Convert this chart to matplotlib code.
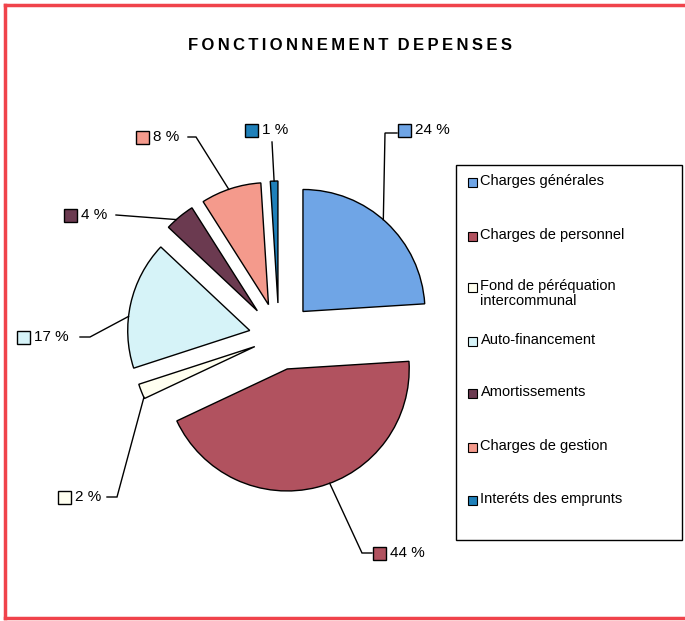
"""Pie chart: FONCTIONNEMENT DEPENSES (exploded slices, boxed legend on the right)."""
import numpy as np
import matplotlib

matplotlib.use("Agg")
import matplotlib.pyplot as plt
from matplotlib.patches import Rectangle
from matplotlib.lines import Line2D

TITLE = "FONCTIONNEMENT DEPENSES"
CATEGORIES = ["Charges générales", "Charges de personnel",
              "Fond de péréquation\nintercommunal", "Auto-financement",
              "Amortissements", "Charges de gestion", "Interéts des emprunts"]
SHARES = [24, 44, 2, 17, 4, 8, 1]

COLORS = ["#6FA5E6", "#B1525F", "#FFFFF0", "#D6F3F8", "#6B3A50", "#F49A8C", "#1F80B9"]
EXPLODE = [35, 33, 26, 30, 34, 34, 34]   # pixels (pie explode is in data units)
ANCHOR_SHIFT = [2, 6, 3, 6, 2, 1, 0]     # degrees from slice middle where the leader touches

# layout, in pixel coords of the reference (y down)
W, H = 685, 621
PIE_CENTER = (279, 337)
PIE_R = 122
LABEL_BOX = [(405, 130), (380, 553), (65, 497), (24, 337), (71, 215), (143, 137), (252, 130)]
LEADERS = [[(385, 133), (397, 133)], [(362, 553), (372, 553)], [(117, 497), (107, 497)],
           [(90, 337), (80, 337)], [(116, 215)], [(196, 137), (188, 137)], [(272, 142)]]
LEGEND_Y = [182, 236, 287, 341, 393, 447, 500]

FONT = ["Liberation Sans", "DejaVu Sans"]


def px(x, y):
    return x, H - y


fig = plt.figure(figsize=(W / 100, H / 100), dpi=100)
ax = fig.add_axes([0, 0, 1, 1])

wedges, _ = ax.pie(SHARES, colors=COLORS, explode=EXPLODE, startangle=90,
                   counterclock=False, center=px(*PIE_CENTER), radius=PIE_R,
                   frame=True, wedgeprops=dict(edgecolor="black", linewidth=1.0))
ax.set_xlim(0, W)
ax.set_ylim(0, H)
ax.set_aspect("equal")
ax.axis("off")

# data labels with leader lines
for w, v, c, shift, box, elbow in zip(wedges, SHARES, COLORS, ANCHOR_SHIFT, LABEL_BOX, LEADERS):
    a = np.radians((w.theta1 + w.theta2) / 2 + shift)
    ax_, ay_ = w.center[0] + w.r * np.cos(a), w.center[1] + w.r * np.sin(a)
    pts = [(ax_, ay_)] + [px(*p) for p in elbow]
    xs, ys = zip(*pts)
    ax.plot(xs, ys, color="black", lw=1.0, solid_joinstyle="miter")
    bx, by = px(*box)
    ax.add_patch(Rectangle((bx - 6.5, by - 6.5), 13, 13, facecolor=c,
                           edgecolor="black", lw=1.0))
    ax.text(bx + 10, by, f"{v} %", fontsize=11, family=FONT, va="center", ha="left")

# legend drawn as a box with swatches
lx, ly = px(456, 540)
ax.add_patch(Rectangle((lx, ly), 226, 375, facecolor="white", edgecolor="black", lw=1.0))
for name, c, y in zip(CATEGORIES, COLORS, LEGEND_Y):
    sx, sy = px(472.5, y)
    ax.add_patch(Rectangle((sx - 4.5, sy - 4.5), 9, 9, facecolor=c, edgecolor="black", lw=0.8))
    ax.text(sx + 8, sy + 8, name, fontsize=10.5, family=FONT, va="top", ha="left",
            linespacing=1.05)

# title, letter-spaced
tx, ty = px(350, 45)
spaced = "  ".join("\u2009".join(word) for word in TITLE.split())
ax.text(tx, ty, spaced, fontsize=12, fontweight="bold", family=FONT,
        ha="center", va="center")

# red frame of the scan (right side cut off)
red = "#F0434B"
for xs, ys in [((5, 5), (5, 618)), ((5, W), (5, 5)), ((5, W), (618, 618))]:
    fig.add_artist(Line2D(np.array(xs) / W, 1 - np.array(ys) / H, color=red, lw=2.5))

fig.savefig("out.png", dpi=100)
